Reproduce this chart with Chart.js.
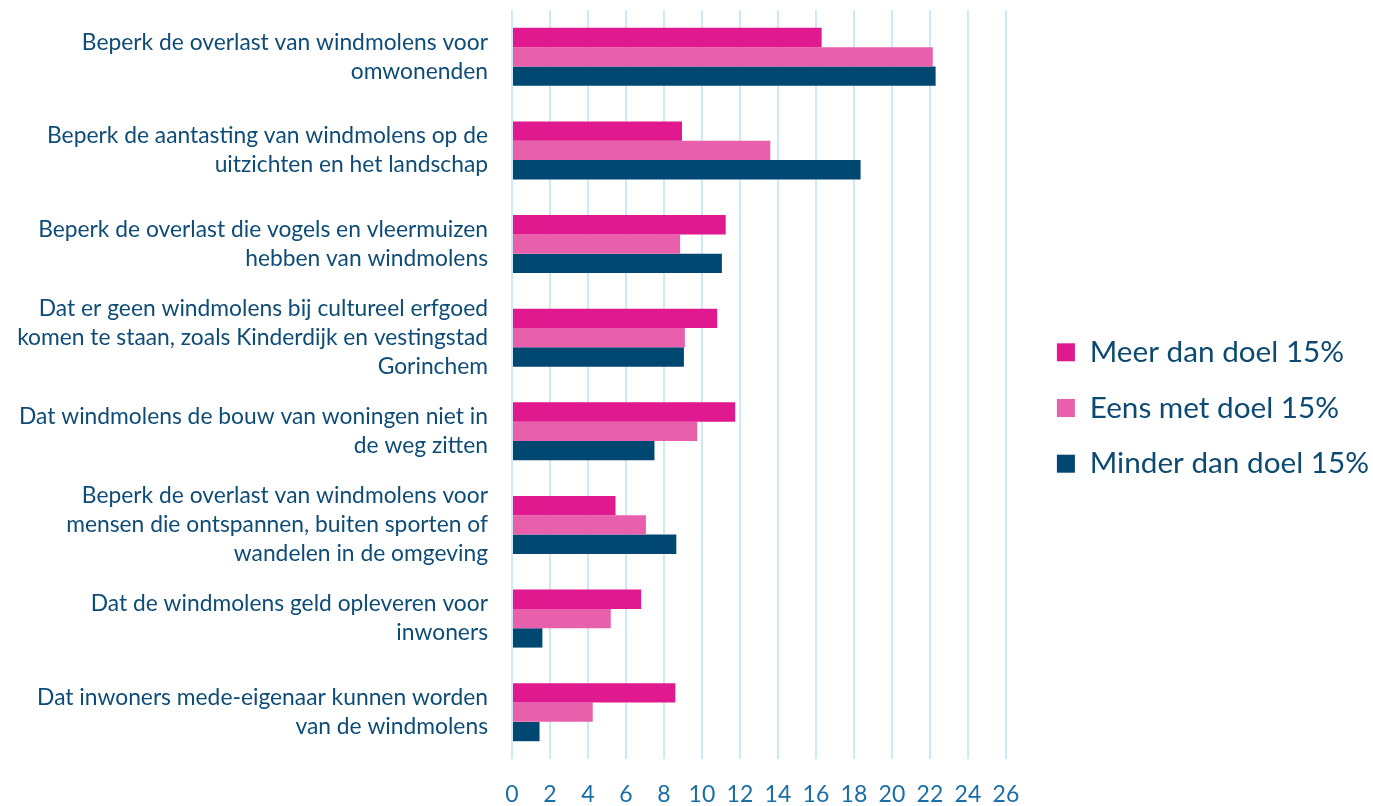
<!DOCTYPE html>
<html>
<head>
<meta charset="utf-8">
<script src="https://cdn.jsdelivr.net/npm/chart.js@4/dist/chart.umd.min.js"></script>
<style>
html,body{margin:0;padding:0;background:#fff;}
#wrap{width:1373px;height:806px;position:relative;}
</style>
</head>
<body>
<div id="wrap"><canvas id="c" width="1373" height="806"></canvas></div>
<script>
const categories = [
  ["Beperk de overlast van windmolens voor", "omwonenden"],
  ["Beperk de aantasting van windmolens op de", "uitzichten en het landschap"],
  ["Beperk de overlast die vogels en vleermuizen", "hebben van windmolens"],
  ["Dat er geen windmolens bij cultureel erfgoed", "komen te staan, zoals Kinderdijk en vestingstad", "Gorinchem"],
  ["Dat windmolens de bouw van woningen niet in", "de weg zitten"],
  ["Beperk de overlast van windmolens voor", "mensen die ontspannen, buiten sporten of", "wandelen in de omgeving"],
  ["Dat de windmolens geld opleveren voor", "inwoners"],
  ["Dat inwoners mede-eigenaar kunnen worden", "van de windmolens"]
];
const seriesNames = ["Meer dan doel 15%", "Eens met doel 15%", "Minder dan doel 15%"];
const meer   = [16.3, 8.95, 11.25, 10.8, 11.75, 5.45, 6.8, 8.6];
const eens   = [22.15, 13.6, 8.85, 9.1, 9.75, 7.05, 5.2, 4.25];
const minder = [22.3, 18.35, 11.05, 9.05, 7.5, 8.65, 1.6, 1.45];
const xTicks = [0,2,4,6,8,10,12,14,16,18,20,22,24,26];

const colors = ["#e0198f", "#e85fac", "#004872"];
const fontFam = "Lato, 'Noto Sans', sans-serif";

new Chart(document.getElementById('c'), {
  type: 'bar',
  data: {
    labels: categories,
    datasets: [meer, eens, minder].map((d, i) => ({
      label: seriesNames[i],
      data: d,
      backgroundColor: colors[i],
      borderWidth: 0,
      barPercentage: 1.0,
      categoryPercentage: 0.62
    }))
  },
  options: {
    indexAxis: 'y',
    responsive: false,
    animation: false,
    layout: { padding: { top: 10, right: -6, left: 0, bottom: 0 } },
    plugins: {
      tooltip: { enabled: false },
      legend: {
        position: 'right',
        maxWidth: 420,
        labels: {
          boxWidth: 18,
          boxHeight: 18,
          padding: 26,
          color: '#0d4a73',
          font: { family: fontFam, size: 29.7 }
        }
      }
    },
    scales: {
      x: {
        min: 0, max: 26,
        afterBuildTicks: (ax) => { ax.ticks = xTicks.map(v => ({ value: v })); },
        afterFit: (s) => { s.height = 47; },
        grid: { color: '#cde8f9', lineWidth: 2, drawTicks: false },
        border: { display: false },
        ticks: { color: '#1a6ea8', font: { family: fontFam, size: 23 }, padding: 22 }
      },
      y: {
        afterFit: (s) => { s.width = 512; s.paddingTop = 0; s.paddingBottom = 0; },
        grid: { display: false, drawTicks: false },
        border: { display: false },
        ticks: { color: '#0e4c78', font: { family: fontFam, size: 22.8, lineHeight: 1.27 }, padding: 24, autoSkip: false }
      },
      spacer: {
        type: 'linear',
        position: 'right',
        display: true,
        afterFit: (s) => { s.width = 25; s.paddingTop = 0; s.paddingBottom = 0; },
        grid: { display: false, drawTicks: false },
        border: { display: false },
        ticks: { display: false }
      }
    }
  }
});
</script>
</body>
</html>
